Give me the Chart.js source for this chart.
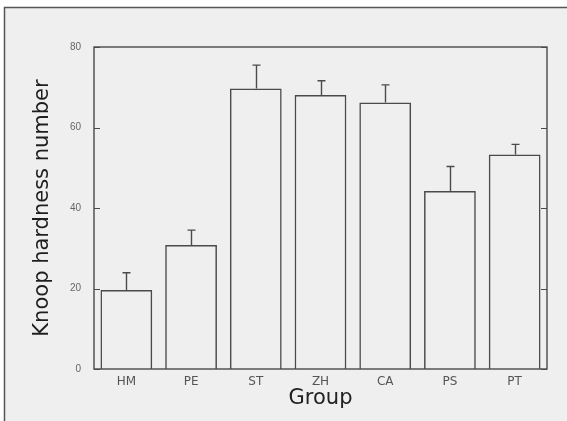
<!DOCTYPE html>
<html>
<head>
<meta charset="utf-8">
<script src="https://cdn.jsdelivr.net/npm/chart.js@4/dist/chart.umd.min.js"></script>
<style>
  html, body { margin: 0; padding: 0; background: #fff; }
  #wrap { width: 567px; height: 421px; }
</style>
</head>
<body>
<div id="wrap"><canvas id="c" width="567" height="421"></canvas></div>
<script>
// Knoop hardness by material group (mean, upper SD)
const groups = ['HM', 'PE', 'ST', 'ZH', 'CA', 'PS', 'PT'];
const hardness = [19.6, 30.8, 69.7, 68.1, 66.2, 44.2, 53.3];
const hardnessSD = [4.3, 3.7, 5.8, 3.5, 4.4, 6.1, 2.5];
const yTicks = [0, 20, 40, 60, 80];

const INK = '#4a4a4a';

// Grey panel with a dark rule along its top and left edges
const panel = {
  id: 'panel',
  beforeDraw(chart) {
    const { ctx, width, height } = chart;
    ctx.save();
    ctx.fillStyle = '#ffffff';
    ctx.fillRect(0, 0, width, height);
    ctx.fillStyle = '#efefef';
    ctx.fillRect(4, 7, width - 4, height - 7);
    ctx.strokeStyle = '#555';
    ctx.lineWidth = 1.5;
    ctx.beginPath();
    ctx.moveTo(4.5, height);
    ctx.lineTo(4.5, 7.5);
    ctx.lineTo(width, 7.5);
    ctx.stroke();
    ctx.restore();
  }
};

// Boxed plot frame with inward tick marks on both vertical sides
const frame = {
  id: 'frame',
  afterDatasetsDraw(chart) {
    const { ctx, chartArea: a, scales: { y } } = chart;
    ctx.save();
    ctx.strokeStyle = INK;
    ctx.lineWidth = 1.4;
    ctx.strokeRect(a.left, a.top, a.right - a.left, a.bottom - a.top);
    ctx.lineWidth = 1.2;
    ctx.beginPath();
    yTicks.forEach(v => {
      const py = Math.round(y.getPixelForValue(v)) + 0.5;
      ctx.moveTo(a.left, py); ctx.lineTo(a.left + 6, py);
      ctx.moveTo(a.right, py); ctx.lineTo(a.right - 6, py);
    });
    ctx.stroke();
    ctx.restore();
  }
};

// Upper error whiskers with a short cap
const whiskers = {
  id: 'whiskers',
  afterDatasetsDraw(chart) {
    const { ctx, scales: { y } } = chart;
    const bars = chart.getDatasetMeta(0).data;
    ctx.save();
    ctx.strokeStyle = INK;
    ctx.lineWidth = 1.4;
    ctx.beginPath();
    bars.forEach((bar, i) => {
      const top = y.getPixelForValue(hardness[i] + hardnessSD[i]);
      const x = Math.round(bar.x) + 0.5;
      ctx.moveTo(x, bar.y);
      ctx.lineTo(x, top);
      ctx.moveTo(x - 4, top);
      ctx.lineTo(x + 4, top);
    });
    ctx.stroke();
    ctx.restore();
  }
};

new Chart(document.getElementById('c'), {
  type: 'bar',
  data: {
    labels: groups,
    datasets: [{
      data: hardness,
      backgroundColor: 'rgba(0,0,0,0)',
      borderColor: INK,
      borderWidth: 1.5,
      borderSkipped: 'bottom',
      categoryPercentage: 0.8,
      barPercentage: 1.0
    }]
  },
  options: {
    responsive: false,
    animation: false,
    layout: { padding: { top: 47, right: 20, left: 0, bottom: 0 } },
    plugins: { legend: { display: false }, tooltip: { enabled: false } },
    scales: {
      x: {
        grid: { display: false, drawTicks: false },
        border: { display: false },
        ticks: { font: { family: 'DejaVu Sans', size: 12 }, color: '#555', padding: 6 },
        title: {
          display: true, text: 'Group', color: '#222',
          font: { family: 'DejaVu Sans', size: 21 },
          padding: { top: 0, bottom: 10 }
        },
        afterFit(s) { s.height = 52; }
      },
      y: {
        min: 0, max: 80,
        afterBuildTicks(s) { s.ticks = yTicks.map(v => ({ value: v })); },
        grid: { display: false, drawTicks: false },
        border: { display: false },
        ticks: { font: { family: 'Liberation Sans', size: 10 }, color: '#666', padding: 13 },
        title: {
          display: true, text: 'Knoop hardness number', color: '#1e1e1e',
          font: { family: 'DejaVu Sans', size: 21 },
          padding: { top: 30, bottom: 0 }
        },
        afterFit(s) { s.width = 94; }
      }
    }
  },
  plugins: [panel, frame, whiskers]
});
</script>
</body>
</html>
